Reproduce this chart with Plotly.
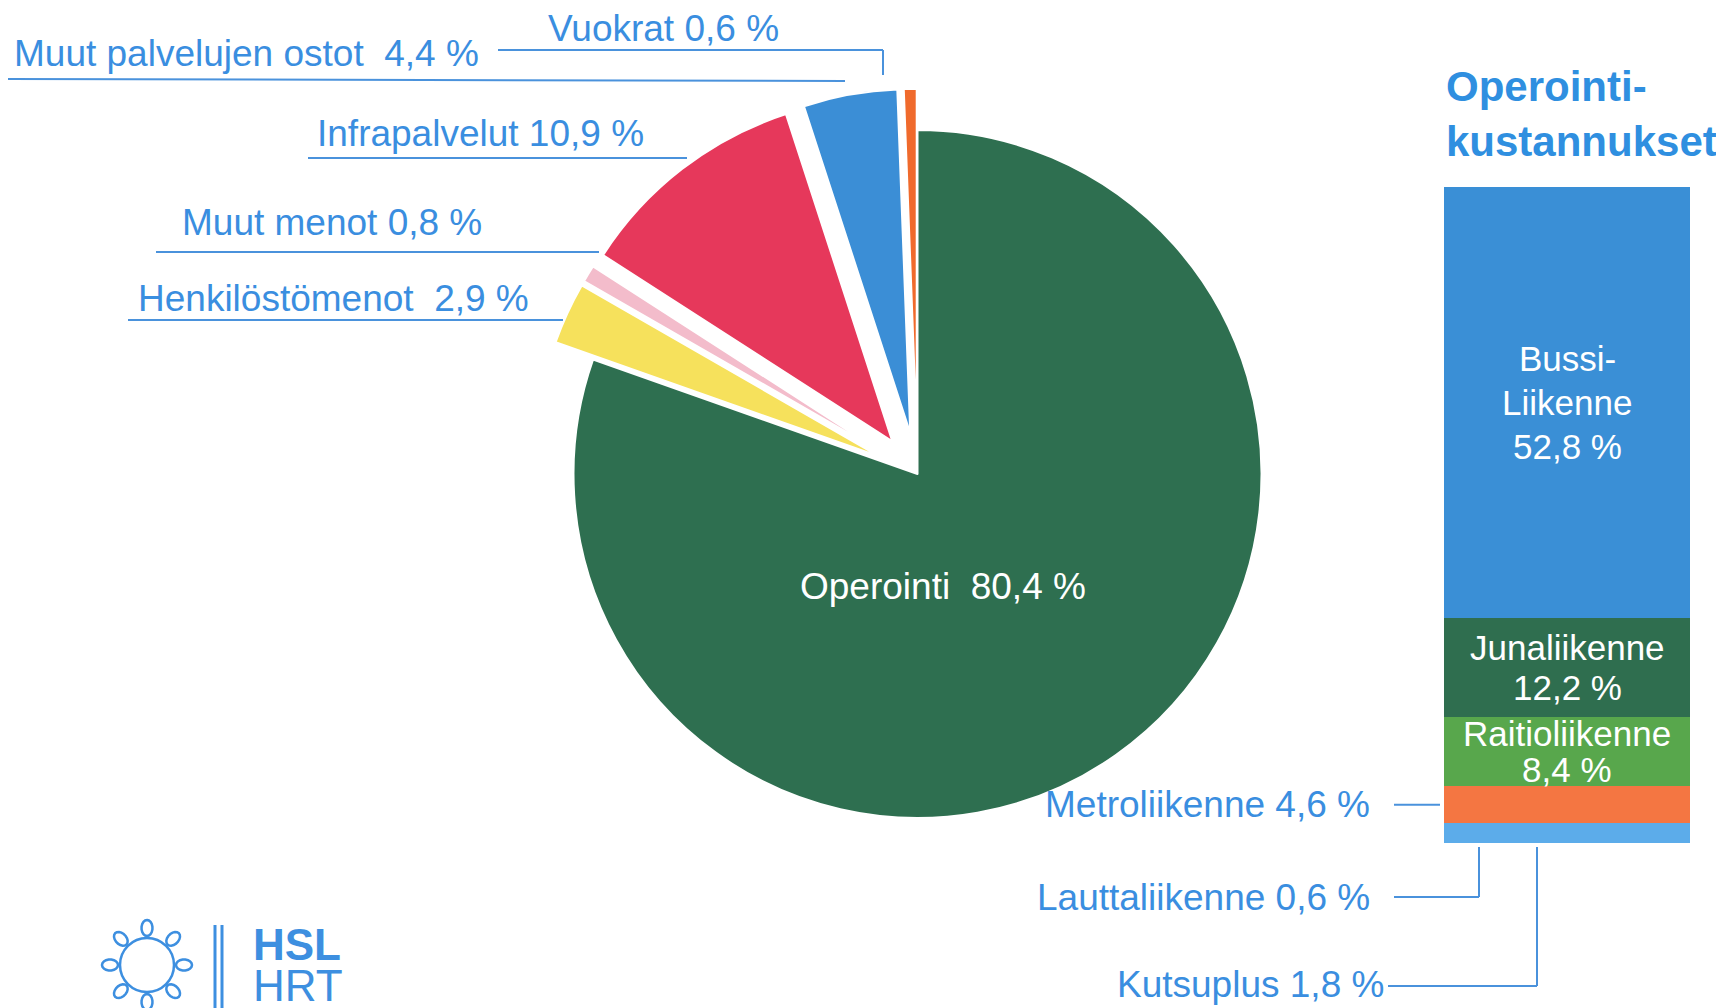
import plotly.graph_objects as go
import math

W, H = 1724, 1008
OX, OY = 8, 8  # page offset of the plot inside the browser window

# ---------------- data ----------------
pie_labels = ["Operointi", "Henkilöstömenot", "Muut menot", "Infrapalvelut",
              "Muut palvelujen ostot", "Vuokrat"]
pie_values = [80.4, 2.9, 0.8, 10.9, 4.4, 0.6]
pie_colors = ["#2e6f50", "#f6e15c", "#f3bccb", "#e6385b", "#3b8ed6", "#f06a2c"]
pie_pull = [0, 0.12, 0.12, 0.12, 0.12, 0.12]

bar_labels = ["Kutsuplus", "Lauttaliikenne", "Metroliikenne", "Raitioliikenne",
              "Junaliikenne", "Bussiliikenne"]
bar_values = [1.8, 0.6, 4.6, 8.4, 12.2, 52.8]
bar_colors = ["#5cacea", "#5cacea", "#f47642", "#58a74c", "#2f6e4f", "#3a8fd6"]

TXT = "#3a8ee0"
FONT = "Liberation Sans, Arial, sans-serif"


def pct(v):
    return f"{v:.1f}".replace(".", ",") + " %"


def px(x):
    return (x - OX) / W


def py(y):
    return 1 - (y - OY) / H


fig = go.Figure()

# ---------------- pie ----------------
r_target = 344
half = r_target * (1 + max(pie_pull))
cx, cy = 917.5, 474
fig.add_trace(go.Pie(
    labels=pie_labels, values=pie_values, sort=False, direction="clockwise",
    rotation=0, pull=pie_pull, textinfo="none",
    marker=dict(colors=pie_colors, line=dict(color="white", width=2)),
    domain=dict(x=[px(cx - half), px(cx + half)], y=[py(cy + half), py(cy - half)]),
    showlegend=False,
))

# ---------------- stacked bar ----------------
for lab, v, c in zip(bar_labels, bar_values, bar_colors):
    fig.add_trace(go.Bar(x=[0], y=[v], width=1, name=lab, marker_color=c,
                         marker_line_width=0, showlegend=False,
                         xaxis="x", yaxis="y"))

total = sum(bar_values)
cum = []
s = 0
for v in bar_values:
    cum.append((s, s + v))
    s += v

annotations = []
shapes = []

# pie labels
pie_label_pos = {
    "Vuokrat": (546, 28),
    "Muut palvelujen ostot": (12, 54),
    "Infrapalvelut": (315, 133),
    "Muut menot": (180, 222),
    "Henkilöstömenot": (136, 298),
}
for lab, v in zip(pie_labels, pie_values):
    if lab == "Operointi":
        annotations.append(dict(x=px(943), y=py(586), xref="paper", yref="paper",
                                text=lab + "\u00a0 " + pct(v), showarrow=False,
                                font=dict(family=FONT, size=37, color="white")))
        continue
    x, y = pie_label_pos[lab]
    sep = "\u00a0 " if lab in ("Muut palvelujen ostot", "Henkilöstömenot") else " "
    annotations.append(dict(x=px(x), y=py(y), xref="paper", yref="paper",
                            xanchor="left", yanchor="middle",
                            text=lab + sep + pct(v), showarrow=False,
                            font=dict(family=FONT, size=37, color=TXT)))

LINE = dict(color="#4a92dc", width=2)
# pie leader lines (pixel positions)
for (x0, y0, x1, y1) in [(498, 50, 883, 50), (883, 50, 883, 75),
                         (3, 79, 845, 81), (308, 158, 687, 158),
                         (156, 252, 599, 252), (128, 320, 563, 320)]:
    shapes.append(dict(type="line", xref="paper", yref="paper",
                       x0=px(x0), y0=py(y0), x1=px(x1), y1=py(y1), line=LINE))

# bar inside labels (one annotation per line for tighter spacing)
inside = {"Bussiliikenne": (["Bussi-", "Liikenne"], 44),
          "Junaliikenne": (["Junaliikenne"], 40),
          "Raitioliikenne": (["Raitioliikenne"], 36)}
for lab, v, (a, b) in zip(bar_labels, bar_values, cum):
    if lab in inside:
        lines, gap = inside[lab]
        lines = lines + [pct(v)]
        n = len(lines)
        for i, t in enumerate(lines):
            annotations.append(dict(x=0, y=(a + b) / 2, xref="x", yref="y",
                                    yshift=((n - 1) / 2 - i) * gap,
                                    text=t, showarrow=False,
                                    font=dict(family=FONT, size=35, color="white")))

# bar outside labels
metro_i = bar_labels.index("Metroliikenne")
metro_mid = sum(cum[metro_i]) / 2
annotations.append(dict(x=px(1372), y=metro_mid, xref="paper", yref="y",
                        xanchor="right", yanchor="middle",
                        text="Metroliikenne " + pct(bar_values[metro_i]),
                        showarrow=False, font=dict(family=FONT, size=37, color=TXT)))
shapes.append(dict(type="line", xref="paper", yref="y", x0=px(1394), x1=px(1440),
                   y0=metro_mid, y1=metro_mid, line=LINE))

lautta_i = bar_labels.index("Lauttaliikenne")
annotations.append(dict(x=px(1372), y=py(897), xref="paper", yref="paper",
                        xanchor="right", yanchor="middle",
                        text="Lauttaliikenne " + pct(bar_values[lautta_i]),
                        showarrow=False, font=dict(family=FONT, size=37, color=TXT)))
shapes.append(dict(type="line", xref="paper", yref="paper", x0=px(1394), x1=px(1479),
                   y0=py(897), y1=py(897), line=LINE))
shapes.append(dict(type="line", xref="paper", yref="paper", x0=px(1479), x1=px(1479),
                   y0=py(897), y1=py(847), line=LINE))

kutsu_i = bar_labels.index("Kutsuplus")
annotations.append(dict(x=px(1386), y=py(984), xref="paper", yref="paper",
                        xanchor="right", yanchor="middle",
                        text="Kutsuplus " + pct(bar_values[kutsu_i]),
                        showarrow=False, font=dict(family=FONT, size=37, color=TXT)))
shapes.append(dict(type="line", xref="paper", yref="paper", x0=px(1388), x1=px(1537),
                   y0=py(986), y1=py(986), line=LINE))
shapes.append(dict(type="line", xref="paper", yref="paper", x0=px(1537), x1=px(1537),
                   y0=py(986), y1=py(847), line=LINE))

# title
annotations.append(dict(x=px(1444), y=py(114), xref="paper", yref="paper",
                        xanchor="left", yanchor="middle",
                        text="<b>Operointi-<br>kustannukset</b>", align="left",
                        showarrow=False, font=dict(family=FONT, size=42, color="#2f8fe0")))

# ---------------- logo ----------------
LOGO = "#3d8fe0"
lcx, lcy, lr = 147, 965, 27
shapes.append(dict(type="circle", xref="paper", yref="paper",
                   x0=px(lcx - lr), x1=px(lcx + lr), y0=py(lcy + lr), y1=py(lcy - lr),
                   line=dict(color=LOGO, width=2.5)))
for k in range(8):
    ang = k * math.pi / 4 - math.pi / 2
    ex, ey = lcx + 37 * math.cos(ang), lcy + 37 * math.sin(ang)
    pts = []
    for t in range(0, 361, 20):
        tt = math.radians(t)
        lx = 8 * math.cos(tt)
        ly = 5.5 * math.sin(tt)
        X = ex + lx * math.cos(ang) - ly * math.sin(ang)
        Y = ey + lx * math.sin(ang) + ly * math.cos(ang)
        pts.append((px(X), py(Y)))
    path = "M " + " L ".join(f"{a:.5f},{b:.5f}" for a, b in pts) + " Z"
    shapes.append(dict(type="path", xref="paper", yref="paper", path=path,
                       line=dict(color=LOGO, width=2.5)))
for bx in (215, 222):
    shapes.append(dict(type="line", xref="paper", yref="paper", x0=px(bx), x1=px(bx),
                       y0=py(925), y1=py(1016), line=dict(color=LOGO, width=3)))
annotations.append(dict(x=px(251), y=py(944), xref="paper", yref="paper",
                        xanchor="left", yanchor="middle", text="<b>HSL</b>",
                        showarrow=False, font=dict(family=FONT, size=44, color=LOGO)))
annotations.append(dict(x=px(251), y=py(985), xref="paper", yref="paper",
                        xanchor="left", yanchor="middle", text="HRT",
                        showarrow=False, font=dict(family=FONT, size=44, color=LOGO)))

fig.update_layout(
    width=W, height=H,
    margin=dict(l=0, r=0, t=0, b=0),
    paper_bgcolor="white", plot_bgcolor="white",
    barmode="stack", bargap=0,
    xaxis=dict(domain=[px(1444), px(1690)], range=[-0.5, 0.5], visible=False,
               fixedrange=True),
    yaxis=dict(domain=[py(843), py(187)], range=[0, total], visible=False,
               fixedrange=True),
    annotations=annotations, shapes=shapes,
    showlegend=False,
)

fig.write_html("out.html")
